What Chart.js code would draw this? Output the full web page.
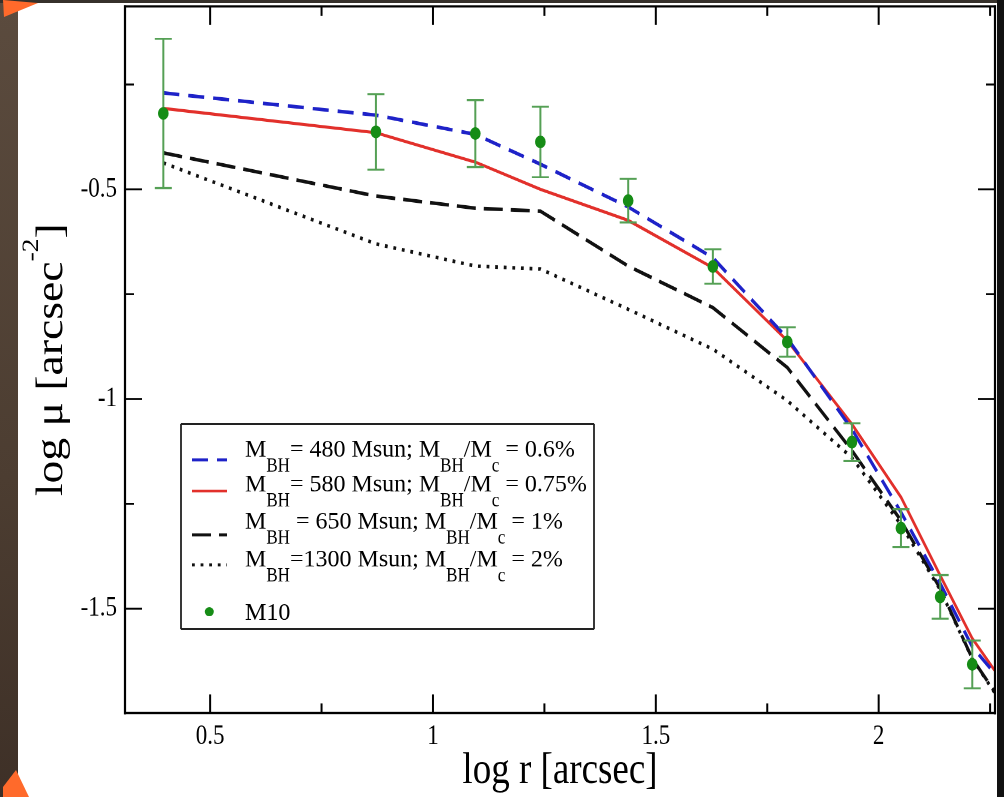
<!DOCTYPE html>
<html>
<head>
<meta charset="utf-8">
<title>M10 surface brightness profile</title>
<script src="https://cdn.jsdelivr.net/npm/chart.js@4.4.1/dist/chart.umd.min.js"></script>
<style>
  html, body { margin:0; padding:0; width:1004px; height:797px; overflow:hidden; background:#4a3b30; }
  #board { position:absolute; left:0; top:0; width:18px; height:797px;
           background:linear-gradient(180deg,#5b4b3e 0%,#4c3d31 60%,#3e3027 100%); }
  #rim { position:absolute; left:0; top:0; width:1004px; height:3px; background:#36312b; }
  #sheet { position:absolute; left:18px; top:3px; width:979px; height:794px; background:#ffffff; }
  #edge { position:absolute; left:997px; top:0; width:7px; height:797px; background:#111111; }
  .pin { position:absolute; background:#ff6a2b; }
  #pinTop { left:0; top:0; width:40px; height:18px; clip-path:polygon(3px 0, 38px 3px, 4px 17px); }
  #pinBottom { left:0; top:768px; width:30px; height:29px; clip-path:polygon(16px 2px, 29px 29px, 3px 29px, 3px 19px); }
  /* the figure is laid out 1004x664 and shown stretched to full height */
  #stage { position:absolute; left:0; top:0; width:1004px; height:664px; transform:scaleY(1.2); transform-origin:0 0; }
</style>
</head>
<body>
<div id="board"></div><div id="rim"></div><div id="sheet"></div><div id="edge"></div>
<div class="pin" id="pinTop"></div><div class="pin" id="pinBottom"></div>
<div id="stage"><canvas id="profile" width="1004" height="664"></canvas></div>
<script>
// ---- M10 observed profile: log r [arcsec], log mu and its 1-sigma error ----
const logR   = [0.395, 0.872, 1.095, 1.241, 1.438, 1.628, 1.795, 1.940, 2.050, 2.138, 2.210];
const m10Mu  = [-0.319, -0.363, -0.367, -0.387, -0.527, -0.684, -0.864, -1.103, -1.308, -1.472, -1.633];
const m10Err = [0.178, 0.090, 0.080, 0.084, 0.052, 0.041, 0.035, 0.045, 0.045, 0.052, 0.057];

// ---- model profiles for four black-hole masses ----
const modelR = [0.395, 0.872, 1.095, 1.241, 1.438, 1.628, 1.795, 1.940, 2.050, 2.138, 2.210, 2.260];
const mu480  = [-0.270, -0.323, -0.369, -0.440, -0.542, -0.663, -0.855, -1.072, -1.270, -1.440, -1.591, -1.654];
const mu580  = [-0.307, -0.365, -0.435, -0.500, -0.574, -0.687, -0.861, -1.060, -1.234, -1.421, -1.571, -1.647];
const mu650  = [-0.413, -0.516, -0.545, -0.552, -0.683, -0.782, -0.925, -1.123, -1.290, -1.452, -1.619, -1.698];
const mu1300 = [-0.437, -0.630, -0.683, -0.690, -0.786, -0.881, -1.004, -1.140, -1.300, -1.455, -1.620, -1.700];

// ---- axes ----
const X_MIN = 0.309, X_MAX = 2.261;
const Y_MIN = -1.749, Y_MAX = -0.0636;
const xMajor = [0.5, 1, 1.5, 2];
const xMinor = [0.75, 1.25, 1.75, 2.25];
const xTickLabels = ['0.5', '1', '1.5', '2'];
const yMajor = [-1.5, -1, -0.5];
const yMinor = [-1.25, -0.75, -0.25];
const yTickLabels = ['-1.5', '-1', '-0.5'];

// ---- legend rows: [text, subscript?] ----
const legendRows = [
  [['M', 0], ['BH', 1], ['= 480 Msun; M', 0], ['BH', 1], ['/M', 0], ['c', 1], [' = 0.6%', 0]],
  [['M', 0], ['BH', 1], ['= 580 Msun; M', 0], ['BH', 1], ['/M', 0], ['c', 1], [' = 0.75%', 0]],
  [['M', 0], ['BH', 1], [' = 650 Msun; M', 0], ['BH', 1], ['/M', 0], ['c', 1], [' = 1%', 0]],
  [['M', 0], ['BH', 1], ['=1300 Msun; M', 0], ['BH', 1], ['/M', 0], ['c', 1], [' = 2%', 0]],
  [['M10', 0]]
];

const SERIF = "'Liberation Serif', 'Times New Roman', Times, serif";
const STRETCH = 1.2;           // vertical display stretch of the stage
const BLUE = '#1e22c8', RED = '#e2302b', INK = '#111111';
const DOT = '#168c16', BAR = '#55a055';

const pairs = (xs, ys) => xs.map((x, i) => ({ x, y: ys[i] }));

function seg(ctx, x1, y1, x2, y2) {
  ctx.beginPath(); ctx.moveTo(x1, y1); ctx.lineTo(x2, y2); ctx.stroke();
}

// error bars for the M10 points, drawn just before the markers
const errorBars = {
  id: 'errorBars',
  beforeDatasetDraw(chart, args) {
    if (args.index !== 0) return;
    const { ctx, scales: { x, y } } = chart;
    ctx.save();
    ctx.strokeStyle = BAR;
    logR.forEach((r, i) => {
      const px = x.getPixelForValue(r);
      const top = y.getPixelForValue(m10Mu[i] + m10Err[i]);
      const bot = y.getPixelForValue(m10Mu[i] - m10Err[i]);
      ctx.lineWidth = 2;
      seg(ctx, px, top, px, bot);
      ctx.lineWidth = 2 / STRETCH;
      seg(ctx, px - 8.5, top, px + 8.5, top);
      seg(ctx, px - 8.5, bot, px + 8.5, bot);
    });
    ctx.restore();
  }
};

// box frame with inward ticks on all four sides
const frame = {
  id: 'frame',
  afterDatasetsDraw(chart) {
    const { ctx, chartArea: a, scales: { x, y } } = chart;
    ctx.save();
    ctx.strokeStyle = '#000';
    ctx.lineWidth = 2.2;
    seg(ctx, a.left, a.top - 1, a.left, a.bottom + 1);
    seg(ctx, a.right, a.top - 1, a.right, a.bottom + 1);
    ctx.lineWidth = 2.2 / STRETCH;
    seg(ctx, a.left - 1, a.top, a.right + 1, a.top);
    seg(ctx, a.left - 1, a.bottom, a.right + 1, a.bottom);

    ctx.lineWidth = 2;
    const xt = (vals, len) => vals.forEach(v => {
      const px = x.getPixelForValue(v);
      seg(ctx, px, a.bottom, px, a.bottom - len);
      seg(ctx, px, a.top, px, a.top + len);
    });
    xt(xMajor, 15.5); xt(xMinor, 8);

    ctx.lineWidth = 2 / STRETCH;
    const yt = (vals, len) => vals.forEach(v => {
      const py = y.getPixelForValue(v);
      seg(ctx, a.left, py, a.left + len, py);
      seg(ctx, a.right, py, a.right - len, py);
    });
    yt(yMajor, 17); yt(yMinor, 9);
    ctx.restore();
  }
};

// text with subscripts; the main text keeps its natural proportions
function drawRich(ctx, x, y, parts) {
  let cx = x;
  parts.forEach(([t, sub]) => {
    if (sub) {
      ctx.font = '17px ' + SERIF;
      ctx.fillText(t, cx, y + 12.5);
      cx += ctx.measureText(t).width;
    } else {
      ctx.font = '24px ' + SERIF;
      ctx.save();
      ctx.translate(cx, y);
      ctx.scale(1, 1 / STRETCH);
      ctx.fillText(t, 0, 0);
      ctx.restore();
      cx += ctx.measureText(t).width;
    }
  });
}

const legendBox = {
  id: 'legendBox',
  afterDraw(chart) {
    const ctx = chart.ctx;
    const L = 181, R = 594, T = 353.3, B = 524.2;
    ctx.save();
    ctx.fillStyle = '#fff';
    ctx.fillRect(L, T, R - L, B - T);
    ctx.strokeStyle = '#222';
    ctx.lineWidth = 1.8;
    seg(ctx, L, T, L, B); seg(ctx, R, T, R, B);
    ctx.lineWidth = 1.8 / STRETCH;
    seg(ctx, L, T, R, T); seg(ctx, L, B, R, B);

    const sx1 = 192, sx2 = 227;
    const samples = [
      { y: 383.3, color: BLUE, w: 3.0, dash: [16, 9] },
      { y: 409.2, color: RED,  w: 2.6, dash: [] },
      { y: 445.8, color: INK,  w: 3.0, dash: [19, 8] },
      { y: 470.8, color: INK,  w: 3.0, dash: [2.8, 5.8] }
    ];
    samples.forEach(s => {
      ctx.strokeStyle = s.color;
      ctx.lineWidth = s.w / STRETCH;
      ctx.setLineDash(s.dash);
      seg(ctx, sx1, s.y, sx2, s.y);
    });
    ctx.setLineDash([]);
    ctx.fillStyle = DOT;
    ctx.beginPath();
    ctx.ellipse(209.3, 509.8, 4.5, 4.5 / STRETCH, 0, 0, Math.PI * 2);
    ctx.fill();

    ctx.fillStyle = '#000';
    ctx.textBaseline = 'alphabetic';
    ctx.textAlign = 'left';
    const baselines = [380.6, 409.7, 440.3, 472.2, 516.7];
    legendRows.forEach((row, i) => drawRich(ctx, 245, baselines[i], row));
    ctx.restore();
  }
};

const axisTitles = {
  id: 'axisTitles',
  afterDraw(chart) {
    const ctx = chart.ctx;
    const a = chart.chartArea;
    ctx.save();
    ctx.fillStyle = '#000';
    ctx.textBaseline = 'alphabetic';
    // x title
    ctx.font = '37px ' + SERIF;
    ctx.textAlign = 'center';
    ctx.fillText('log r [arcsec]', (a.left + a.right) / 2, 652.5);
    // y title with superscript
    ctx.textAlign = 'left';
    ctx.translate(62, (a.top + a.bottom) / 2);
    ctx.rotate(-Math.PI / 2);
    const main = 'log \u03bc [arcsec', sup = '-2', close = ']';
    ctx.font = '38px ' + SERIF;
    const w1 = ctx.measureText(main).width, w3 = ctx.measureText(close).width;
    ctx.font = '23px ' + SERIF;
    const w2 = ctx.measureText(sup).width;
    let cx = -(w1 + w2 + w3) / 2;
    ctx.font = '38px ' + SERIF;
    ctx.fillText(main, cx, 0); cx += w1;
    ctx.font = '23px ' + SERIF;
    ctx.fillText(sup, cx, -24); cx += w2;
    ctx.font = '38px ' + SERIF;
    ctx.fillText(close, cx, 0);
    ctx.restore();
  }
};

const lineSet = (label, ys, color, width, dash) => ({
  label, data: pairs(modelR, ys), showLine: true, borderColor: color,
  backgroundColor: color, borderWidth: width, borderDash: dash,
  pointRadius: 0, pointHoverRadius: 0, tension: 0, fill: false
});

// fixed axis boxes, without the label overhang padding
const fixX = s => { s.height = 69.8; s.paddingLeft = 0; s.paddingRight = 0; s.paddingTop = 0; s.paddingBottom = 0; };
const fixY = s => { s.width = 125; s.paddingLeft = 0; s.paddingRight = 0; s.paddingTop = 0; s.paddingBottom = 0; };

new Chart(document.getElementById('profile'), {
  type: 'scatter',
  data: {
    datasets: [
      { label: 'M10', data: pairs(logR, m10Mu), showLine: false, pointRadius: 5.3,
        pointHoverRadius: 5.3, backgroundColor: DOT, borderColor: DOT, borderWidth: 0 },
      lineSet('MBH = 480 Msun', mu480, BLUE, 3.0, [16, 9]),
      lineSet('MBH = 580 Msun', mu580, RED, 2.6, []),
      lineSet('MBH = 650 Msun', mu650, INK, 3.0, [19, 8]),
      lineSet('MBH = 1300 Msun', mu1300, INK, 3.0, [2.8, 5.8])
    ]
  },
  options: {
    responsive: false,
    animation: false,
    devicePixelRatio: 2,
    layout: { padding: { left: 0, right: 9, top: 4.17, bottom: 0 } },
    plugins: { legend: { display: false }, tooltip: { enabled: false } },
    scales: {
      x: {
        type: 'linear', min: X_MIN, max: X_MAX,
        afterBuildTicks: s => { s.ticks = xMajor.concat(xMinor).sort((p, q) => p - q).map(v => ({ value: v })); },
        afterFit: fixX,
        grid: { display: false, drawTicks: false },
        border: { display: false },
        ticks: {
          autoSkip: false, maxRotation: 0, padding: 6, color: '#000',
          font: { family: SERIF, size: 23 },
          callback: v => { const i = xMajor.indexOf(v); return i >= 0 ? xTickLabels[i] : ''; }
        }
      },
      y: {
        type: 'linear', min: Y_MIN, max: Y_MAX,
        afterBuildTicks: s => { s.ticks = yMajor.concat(yMinor).sort((p, q) => p - q).map(v => ({ value: v })); },
        afterFit: fixY,
        grid: { display: false, drawTicks: false },
        border: { display: false },
        ticks: {
          autoSkip: false, padding: 8, color: '#000',
          font: { family: SERIF, size: 23 },
          callback: v => { const i = yMajor.indexOf(v); return i >= 0 ? yTickLabels[i] : ''; }
        }
      }
    }
  },
  plugins: [errorBars, frame, legendBox, axisTitles]
});
</script>
</body>
</html>
